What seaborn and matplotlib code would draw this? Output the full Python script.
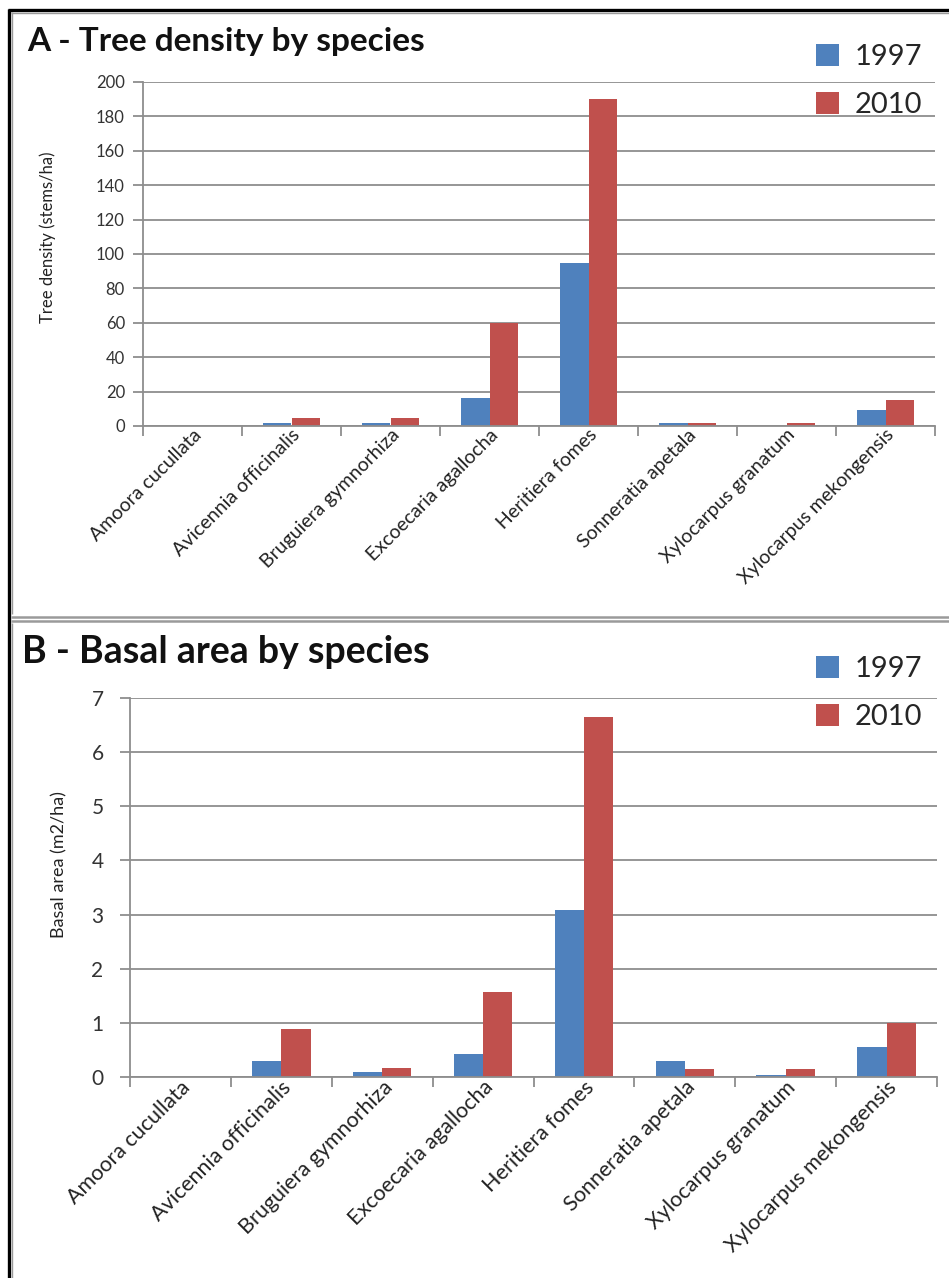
import matplotlib
matplotlib.use("Agg")
import matplotlib.pyplot as plt
import matplotlib.transforms as mtrans
from matplotlib.lines import Line2D
from matplotlib.ticker import FixedLocator, NullFormatter
import seaborn as sns
import pandas as pd

species = [
    "Amoora cucullata",
    "Avicennia officinalis",
    "Bruguiera gymnorhiza",
    "Excoecaria agallocha",
    "Heritiera fomes",
    "Sonneratia apetala",
    "Xylocarpus granatum",
    "Xylocarpus mekongensis",
]
years = ["1997", "2010"]

density_1997 = [0, 2, 2, 16.5, 95, 2, 0, 9.5]
density_2010 = [0, 4.5, 4.5, 60, 190, 1.5, 2, 15]

basal_1997 = [0, 0.30, 0.10, 0.43, 3.08, 0.30, 0.04, 0.55]
basal_2010 = [0, 0.88, 0.17, 1.57, 6.65, 0.15, 0.15, 1.00]

density_ticks = [0, 20, 40, 60, 80, 100, 120, 140, 160, 180, 200]
basal_ticks = [0, 1, 2, 3, 4, 5, 6, 7]


def long_table(v1, v2):
    return pd.DataFrame({
        "species": species * 2,
        "year": [years[0]] * len(species) + [years[1]] * len(species),
        "value": list(v1) + list(v2),
    })


sns.set_theme(style="white")
plt.rcParams["font.family"] = ["Lato", "DejaVu Sans"]

W, H = 949, 1278
fig = plt.figure(figsize=(W / 100, H / 100), dpi=100)
fig.patch.set_facecolor("white")

palette = {"1997": "#4F81BD", "2010": "#C0504D"}
grid_gray = "#8e8e8e"


def px_axes(x0, y0, x1, y1):
    return fig.add_axes([x0 / W, 1 - y1 / H, (x1 - x0) / W, (y1 - y0) / H])


def style_axes(ax, ticks, ylabel, ytick_fs, ytick_pad, xtick_fs, ylabel_fs,
               ylabel_xy, rot, xoff, yoff):
    ax.set_ylim(ticks[0], ticks[-1])
    ax.set_xlim(-0.5, len(species) - 0.5)
    ax.set_yticks(ticks)
    ax.set_yticklabels([str(t) for t in ticks], fontsize=ytick_fs, color="#333333")
    ax.yaxis.grid(True, color=grid_gray, lw=1.3)
    ax.xaxis.grid(False)
    ax.set_axisbelow(True)
    for s in ["top", "right"]:
        ax.spines[s].set_visible(False)
    for s in ["left", "bottom"]:
        ax.spines[s].set_color(grid_gray)
        ax.spines[s].set_linewidth(1.3)
    ax.tick_params(axis="y", which="major", left=True, length=7, width=1.3,
                   color=grid_gray, pad=ytick_pad)
    # category boundaries get the tick marks, labels sit at the centres
    ax.xaxis.set_minor_locator(FixedLocator([i - 0.5 for i in range(len(species) + 1)]))
    ax.xaxis.set_minor_formatter(NullFormatter())
    ax.tick_params(axis="x", which="minor", bottom=True, length=7, width=1.3,
                   color=grid_gray)
    ax.tick_params(axis="x", which="major", bottom=False, length=0, pad=0)
    ax.set_xticks(range(len(species)))
    ax.set_xticklabels(species, fontsize=xtick_fs, rotation=rot, ha="right",
                       va="top", rotation_mode="anchor", color="#222222")
    off = mtrans.ScaledTranslation(xoff / 100, yoff / 100, fig.dpi_scale_trans)
    for lab in ax.get_xticklabels():
        lab.set_transform(lab.get_transform() + off)
    ax.set_xlabel("")
    ax.set_ylabel(ylabel, fontsize=ylabel_fs, color="#222222")
    ax.yaxis.set_label_coords(*ylabel_xy)


def add_legend(ax, x_px, y_px):
    handles, labels = ax.get_legend_handles_labels()
    leg = ax.get_legend()
    if leg is not None:
        leg.remove()
    fig.legend(handles, labels, loc="upper left",
               bbox_to_anchor=(x_px / W, 1 - y_px / H), frameon=False,
               fontsize=21, handlelength=0.8, handleheight=0.8,
               handletextpad=0.55, labelspacing=0.75, borderpad=0)


# Panel A: tree density
axA = px_axes(143, 82, 935, 426)
sns.barplot(data=long_table(density_1997, density_2010), x="species", y="value",
            hue="year", palette=palette, width=0.58, saturation=1, ax=axA,
            edgecolor="none")
style_axes(axA, density_ticks, "Tree density (stems/ha)", 12, 6, 14, 12,
           (-0.11, 0.55), 45, 0.0, -0.17)
add_legend(axA, 801, 29)
fig.text(27 / W, 1 - 42 / H, "A - Tree density by species", fontsize=24,
         fontweight="bold", va="center", ha="left", color="#111111")

# Panel B: basal area
axB = px_axes(130, 698, 937, 1077)
sns.barplot(data=long_table(basal_1997, basal_2010), x="species", y="value",
            hue="year", palette=palette, width=0.58, saturation=1, ax=axB,
            edgecolor="none")
style_axes(axB, basal_ticks, "Basal area (m2/ha)", 15, 12, 15.5, 13,
           (-0.078, 0.56), 45, 0.01, -0.2)
add_legend(axB, 801, 641)
fig.text(22 / W, 1 - 652 / H, "B - Basal area by species", fontsize=27,
         fontweight="bold", va="center", ha="left", color="#111111")


# Frame lines around and between the two panels
def hline(y, x0, x1, color, lw):
    fig.add_artist(Line2D([x0 / W, x1 / W], [1 - y / H, 1 - y / H],
                          transform=fig.transFigure, color=color, lw=lw,
                          solid_capstyle="butt"))


def vline(x, y0, y1, color, lw):
    fig.add_artist(Line2D([x / W, x / W], [1 - y0 / H, 1 - y1 / H],
                          transform=fig.transFigure, color=color, lw=lw,
                          solid_capstyle="butt"))


vline(9, 9, H, "black", 2.4)
hline(10, 8, W, "black", 2.4)
vline(12, 12, 614, "#9a9a9a", 1.0)
hline(13, 11, W, "#9a9a9a", 1.0)
hline(617, 11, W, "#9a9a9a", 1.8)
hline(621, 11, W, "#9a9a9a", 1.8)
vline(12, 623, H, "#9a9a9a", 1.0)

fig.savefig("out.png", dpi=100, facecolor="white")
